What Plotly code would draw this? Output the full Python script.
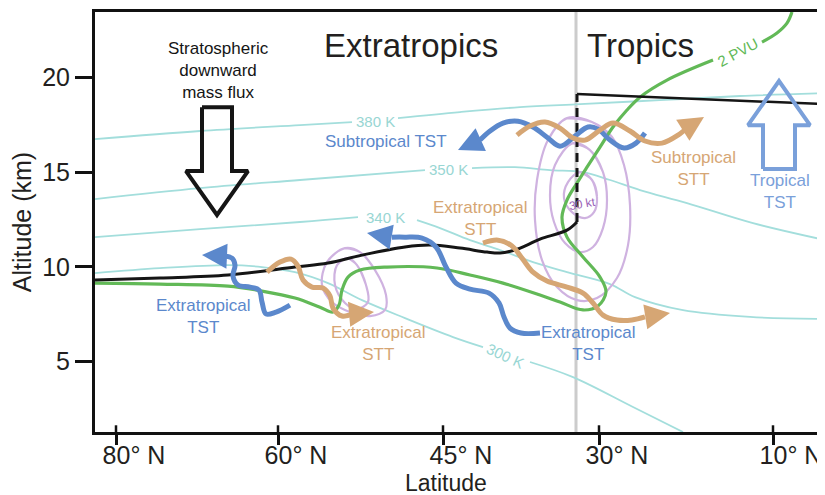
import plotly.graph_objects as go

FONT = "Liberation Sans, Arial, Helvetica, sans-serif"

# ---------------- axes ----------------
lat_tick_pos = [116, 278, 443, 599, 773]          # schematic horizontal position
lat_tick_text = ["80° N", "60° N", "45° N", "30° N", "10° N"]
alt_ticks = [5, 10, 15, 20]
x_range = [95, 825]
alt_range = [1.27, 23.47]
tropics_boundary_x = 576

# ---------------- isentropes (alt in km) ----------------
th380_x = [95, 200, 300, 352, None, 398, 460, 520, 580, 660, 740, 825]
th380_alt = [16.75, 17.18, 17.49, 17.65, None, 17.86, 18.18, 18.44, 18.60, 18.81, 19.03, 19.18]
th350_x = [95, 200, 300, 425, None, 472, 515, 550, 583, 610, 640, 687, 753, 825]
th350_alt = [13.58, 14.16, 14.59, 15.11, None, 15.22, 15.27, 15.11, 15.01, 14.59, 14.06, 13.37, 12.31, 11.42]
th340_x = [95, 200, 300, 358, None, 417, 440, 470, 500, 533, 567, 610, 635, 683, 750, 825]
th340_alt = [11.57, 11.99, 12.37, 12.63, None, 12.47, 12.05, 11.41, 10.89, 10.25, 9.72, 9.09, 8.40, 7.71, 7.35, 7.24]
th300_x = [95, 160, 228, 262, 295, 328, 362, 405, 453, 483, None, 530, 573, 633, 683]
th300_alt = [9.67, 9.93, 10.09, 9.99, 9.72, 9.14, 8.24, 7.29, 6.29, 5.76, None, 4.97, 4.17, 2.59, 1.27]

# ---------------- thermal tropopause ----------------
trop_x = [95, 160, 228, 295, 328, 362, 405, 430, 460, 487, 500, 515, 527, 540, 567, 577]
trop_alt = [9.30, 9.41, 9.57, 9.99, 10.20, 10.62, 11.05, 11.15, 10.99, 10.78, 10.73, 10.89, 11.15, 11.47, 11.94, 12.37]
trop_break_x = [577, 577]
trop_break_alt = [12.37, 19.13]
trop_tropical_x = [577, 825]
trop_tropical_alt = [19.13, 18.60]

# ---------------- 2 PVU dynamical tropopause ----------------
pv_x = [95, 160, 228, 262, 295, 320, 333, 339, 342, 348, 360, 387, 437, 470, 503, 540, 560, 583, 598, 606,
        600, 583, 567, 562, 567, 577, 587, 600, 613, 627, 640, 667, 713, None, 762, 777, 787, 792]
pv_alt = [9.14, 9.09, 8.98, 8.72, 8.35, 7.87, 7.61, 7.98, 8.77, 9.46, 9.83, 9.99, 9.94, 9.57, 9.14, 8.51, 8.14, 7.72, 7.93, 8.67,
          9.46, 10.52, 11.57, 12.63, 13.53, 14.43, 15.27, 16.33, 17.39, 18.29, 18.97, 19.87, 20.93, None, 21.88, 22.36, 22.88, 23.47]

# ---------------- jet-stream isotachs (closed) ----------------
sj_outer_x = [567, 592, 612, 624, 630, 628, 617, 597, 577, 557, 542, 535, 537, 548]
sj_outer_alt = [17.86, 17.65, 16.86, 15.38, 13.26, 11.15, 9.41, 8.35, 8.24, 8.93, 10.36, 12.47, 14.59, 16.70]
sj_mid_x = [573, 590, 603, 607, 603, 593, 580, 565, 554, 550, 555]
sj_mid_alt = [16.54, 16.17, 15.01, 13.53, 12.05, 11.05, 10.78, 11.26, 12.37, 13.79, 15.38]
sj_in_x = [580, 592, 597, 594, 585, 572, 564, 568]
sj_in_alt = [15.01, 14.59, 13.69, 12.89, 12.58, 12.89, 13.63, 14.48]
ej_outer_x = [345, 360, 375, 386, 385, 370, 350, 332, 322, 327]
ej_outer_alt = [10.99, 10.78, 9.83, 8.51, 7.72, 7.40, 7.61, 8.14, 9.04, 10.25]
ej_in_x = [348, 357, 366, 368, 357, 345, 335, 337]
ej_in_alt = [10.46, 10.09, 9.04, 8.14, 7.77, 8.09, 9.04, 10.09]

# ---------------- exchange pathways (wavy arrows) ----------------
st_tst_x = [645, 636, 624, 610, 598, 588, 575, 560, 548, 533, 518, 503, 490, 480]
st_tst_alt = [17.07, 16.54, 16.28, 16.70, 17.28, 17.39, 16.91, 16.38, 16.81, 17.39, 17.70, 17.60, 17.18, 16.70]
st_tst_tip = (458, 16.17)
st_stt_x = [517, 530, 545, 560, 573, 585, 600, 613, 630, 645, 662, 678, 688]
st_stt_alt = [16.96, 17.44, 17.65, 17.33, 16.81, 16.70, 17.23, 17.60, 17.18, 16.65, 16.54, 16.96, 17.39]
st_stt_tip = (704, 17.92)
ex_stt_a_x = [483, 498, 512, 522, 533, 547, 567, 583, 593, 603, 617, 632, 645]
ex_stt_a_alt = [11.26, 11.41, 11.10, 10.46, 9.72, 9.25, 8.93, 8.61, 8.09, 7.45, 7.19, 7.19, 7.35]
ex_stt_a_tip = (670, 7.56)
ex_tst_a_x = [540, 521, 510, 504, 499, 489, 470, 456, 446, 436, 422, 405, 392]
ex_tst_a_alt = [6.50, 6.50, 6.76, 7.35, 8.09, 8.61, 8.82, 9.14, 9.99, 11.05, 11.52, 11.57, 11.57]
ex_tst_a_tip = (367, 11.79)
ex_tst_b_x = [290, 276, 266, 262, 259, 250, 238, 233, 235, 232, 222]
ex_tst_b_alt = [7.98, 7.61, 7.51, 8.14, 8.77, 8.93, 9.04, 9.51, 10.09, 10.46, 10.57]
ex_tst_b_tip = (202, 10.62)
ex_stt_b_x = [267, 280, 291, 298, 303, 312, 323, 330, 333, 342, 353]
ex_stt_b_alt = [9.72, 10.25, 10.41, 10.04, 9.30, 8.93, 8.88, 8.46, 7.82, 7.40, 7.51]
ex_stt_b_tip = (374, 7.61)

# ---------------- open block arrows ----------------
down_x = [202, 232, 232, 248, 217, 186, 202, 202]
down_alt = [18.44, 18.44, 15.06, 15.06, 12.74, 15.06, 15.06, 18.44]
up_x = [763, 795, 795, 810, 779, 748, 763, 763]
up_alt = [15.17, 15.17, 17.49, 17.49, 19.82, 17.49, 17.49, 15.17]

# ---------------- labels ----------------
region_labels = ["Extratropics", "Tropics"]
region_x = [411, 640]
region_alt = [21.72, 21.72]

flow_labels = ["Stratospheric<br>downward<br>mass flux", "Subtropical TST", "Subtropical<br>STT", "Tropical<br>TST",
               "Extratropical<br>STT", "Extratropical<br>TST", "Extratropical<br>STT", "Extratropical<br>TST"]
flow_x = [218, 386, 693, 780, 480, 203, 378, 588]
flow_alt = [20.37, 16.65, 15.22, 14.00, 12.58, 7.35, 5.97, 5.97]
flow_kind = ["black", "blue", "tan", "lblue", "tan", "blue", "tan", "blue"]

theta_labels = ["380 K", "350 K", "340 K", "300 K"]
theta_x = [375, 448, 385, 505]
theta_alt = [17.70, 15.17, 12.63, 5.34]
theta_angle = [0, 0, 0, 25]

x_title = "Latitude"
y_title = "Altitude (km)"

# ---------------- styles ----------------
C = {"blue": "#5b88cc", "tan": "#d6a674", "green": "#62b957", "cyan": "#a3dedc",
     "purple": "#cfb2e0", "black": "#151515", "lblue": "#7aa0da", "ptext": "#9a62b8",
     "ctext": "#98d6d3"}

fig = go.Figure()


def line(x, y, color, width, dash=None, spline=True):
    fig.add_trace(go.Scatter(x=x, y=y, mode="lines", hoverinfo="skip",
                             line=dict(color=color, width=width, dash=dash,
                                       shape="spline" if spline else "linear", smoothing=1.0)))


def closed(x, y, color, width):
    line(list(x) + list(x[:3]), list(y) + list(y[:3]), color, width)


for xs, ys in [(th380_x, th380_alt), (th350_x, th350_alt), (th340_x, th340_alt), (th300_x, th300_alt)]:
    line(xs, ys, C["cyan"], 1.8)

for xs, ys in [(sj_outer_x, sj_outer_alt), (sj_mid_x, sj_mid_alt), (sj_in_x, sj_in_alt),
               (ej_outer_x, ej_outer_alt), (ej_in_x, ej_in_alt)]:
    closed(xs, ys, C["purple"], 2.2)

line(pv_x, pv_alt, C["green"], 3.2)
line(trop_x, trop_alt, C["black"], 3)
line(trop_break_x, trop_break_alt, C["black"], 3, dash="9px,6px", spline=False)
line(trop_tropical_x, trop_tropical_alt, C["black"], 2.5, spline=False)

line(down_x, down_alt, C["black"], 4, spline=False)
line(up_x, up_alt, C["lblue"], 4, spline=False)

arrows = [(st_tst_x, st_tst_alt, st_tst_tip, "blue"), (st_stt_x, st_stt_alt, st_stt_tip, "tan"),
          (ex_stt_a_x, ex_stt_a_alt, ex_stt_a_tip, "tan"), (ex_tst_a_x, ex_tst_a_alt, ex_tst_a_tip, "blue"),
          (ex_tst_b_x, ex_tst_b_alt, ex_tst_b_tip, "blue"), (ex_stt_b_x, ex_stt_b_alt, ex_stt_b_tip, "tan")]
annotations = []
for xs, ys, tip, kind in arrows:
    line(xs, ys, C[kind], 5)
    annotations.append(dict(x=tip[0], y=tip[1], ax=xs[-1], ay=ys[-1], xref="x", yref="y",
                            axref="x", ayref="y", text="", showarrow=True, arrowhead=2,
                            arrowsize=1, arrowwidth=5, arrowcolor=C[kind], standoff=0))

for t, x, y in zip(region_labels, region_x, region_alt):
    annotations.append(dict(x=x, y=y, text=t, showarrow=False, xref="x", yref="y",
                            font=dict(size=33, color="#231f20", family=FONT)))
for t, x, y, k in zip(flow_labels, flow_x, flow_alt, flow_kind):
    annotations.append(dict(x=x, y=y, text=t, showarrow=False, xref="x", yref="y",
                            font=dict(size=17, color=C[k], family=FONT)))
for t, x, y, a in zip(theta_labels, theta_x, theta_alt, theta_angle):
    annotations.append(dict(x=x, y=y, text=t, showarrow=False, xref="x", yref="y", textangle=a,
                            font=dict(size=15, color=C["ctext"], family=FONT)))
annotations.append(dict(x=737, y=21.35, text="2 PVU", showarrow=False, xref="x", yref="y", textangle=-28,
                        font=dict(size=15, color=C["green"], family=FONT)))
annotations.append(dict(x=582, y=13.32, text="30 kt", showarrow=False, xref="x", yref="y", textangle=-10,
                        font=dict(size=12, color=C["ptext"], family=FONT)))
# x-axis title placed just under the tick labels
annotations.append(dict(x=446, y=-0.122, xref="x", yref="paper", text=x_title, showarrow=False,
                        yanchor="middle", font=dict(size=23, color="#231f20", family=FONT)))

# tick marks in the reference cross the axis line: add the short inner part
shapes = [dict(type="line", x0=tropics_boundary_x, x1=tropics_boundary_x, y0=0, y1=1,
               xref="x", yref="paper", layer="below", line=dict(color="#cccccc", width=3))]
for tv in lat_tick_pos:
    shapes.append(dict(type="line", x0=tv, x1=tv, y0=0, y1=0.016, xref="x", yref="paper",
                       line=dict(color="#111", width=2.5)))

# page body has an 8px margin: figure is 817x487 so the plot fills the 825x495 window
fig.update_layout(
    width=817, height=487, margin=dict(l=87, r=0, t=4, b=63),
    plot_bgcolor="white", paper_bgcolor="white", showlegend=False,
    font=dict(family=FONT, color="#231f20"),
    annotations=annotations,
    shapes=shapes,
    xaxis=dict(range=x_range, showgrid=False, zeroline=False, showline=True, linecolor="#111",
               linewidth=3, mirror=True, ticks="outside", ticklen=10, tickwidth=2.5, tickcolor="#111",
               tickvals=lat_tick_pos, ticktext=lat_tick_text, tickfont=dict(size=25, color="#231f20"),
               ticklabelshift=18, ticklabelstandoff=-11, automargin=False),
    yaxis=dict(range=alt_range, showgrid=False, zeroline=False, showline=True, linecolor="#111",
               linewidth=3, ticks="outside", ticklen=17, tickwidth=2.5, tickcolor="#111",
               tickvals=alt_ticks, tickfont=dict(size=25, color="#231f20"), automargin=False,
               title=dict(text=y_title, font=dict(size=25, color="#231f20"), standoff=4)),
)

fig.write_html("out.html")
